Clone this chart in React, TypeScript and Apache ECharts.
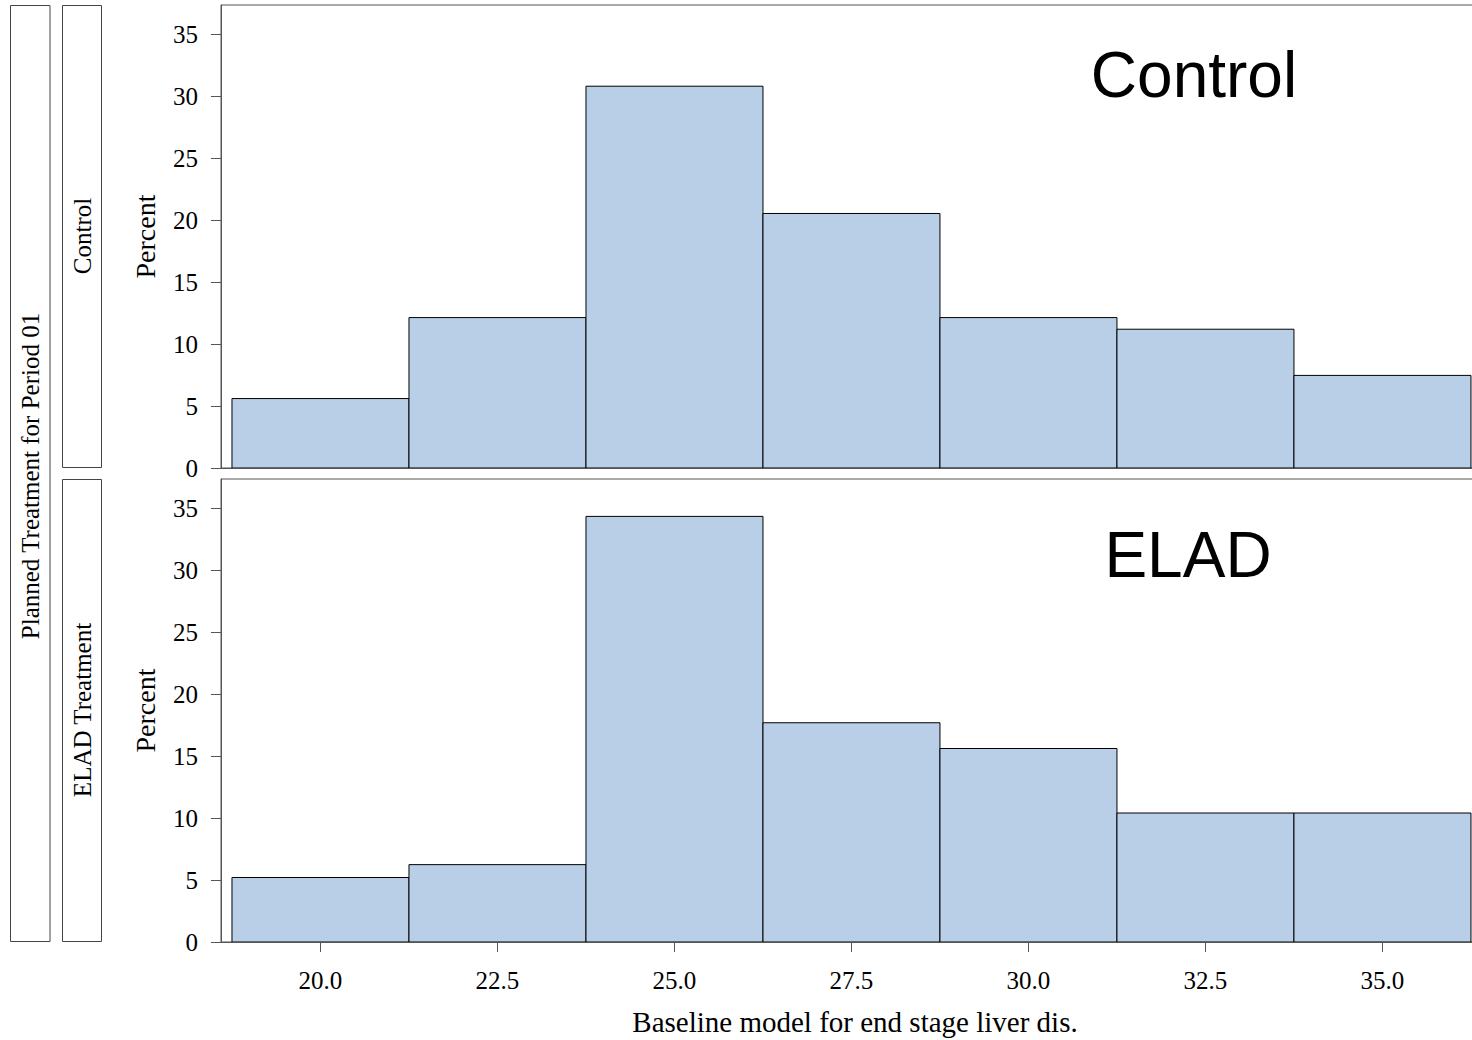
import React, { useEffect, useRef } from "react";
import * as echarts from "echarts";

// Histogram bin edges (MELD score) and percentages per treatment group
const binEdges = [18.75, 21.25, 23.75, 26.25, 28.75, 31.25, 33.75, 36.25];
const controlPct = [5.61, 12.15, 30.84, 20.56, 12.15, 11.21, 7.48];
const eladPct = [5.21, 6.25, 34.38, 17.71, 15.63, 10.42, 10.42];

const xTicks = [20, 22.5, 25, 27.5, 30, 32.5, 35];
const yTicks = [0, 5, 10, 15, 20, 25, 30, 35];

const panelLabels = ["Control", "ELAD"];
const stripLabels = ["Control", "ELAD Treatment"];
const outerStrip = "Planned Treatment for Period 01";
const xTitle = "Baseline model for end stage liver dis.";
const yTitle = "Percent";

const SERIF = "'Liberation Serif', 'Times New Roman', serif";
const SANS = "'Liberation Sans', Arial, sans-serif";
const BAR_FILL = "#B9CFE7";
const AXIS_GRAY = "#555";

const toBins = (pct: number[]) =>
  pct.map((v, i) => [binEdges[i], binEdges[i + 1], v]);

export default function App() {
  const ref = useRef<HTMLDivElement>(null);

  useEffect(() => {
    if (!ref.current) return;
    const chart = echarts.init(ref.current, undefined, { renderer: "svg" });

    const xMin = 18.595;
    const xMax = 36.307;
    const yMax = 37.4;

    // plot area runs slightly past the page's right edge
    const grids = [
      { left: 221, top: 5, width: 1254, height: 463 },
      { left: 221, top: 479, width: 1254, height: 463 },
    ];

    const histRender = (params: any, api: any) => {
      const p0 = api.coord([api.value(0), 0]);
      const p1 = api.coord([api.value(1), api.value(2)]);
      return {
        type: "rect",
        shape: { x: p0[0], y: p1[1], width: p1[0] - p0[0], height: p0[1] - p1[1] },
        style: { fill: BAR_FILL, stroke: "#000", lineWidth: 1 },
      };
    };

    const yAxisFor = (gridIndex: number) => ({
      type: "value",
      gridIndex,
      min: 0,
      max: yMax,
      name: yTitle,
      nameLocation: "middle",
      nameGap: 62,
      nameTextStyle: { fontFamily: SERIF, fontSize: 28, color: "#000" },
      axisLine: { show: true, lineStyle: { color: AXIS_GRAY, width: 1 } },
      axisTick: { show: true, length: 10, customValues: yTicks, lineStyle: { color: AXIS_GRAY } },
      axisLabel: {
        customValues: yTicks,
        margin: 23,
        fontFamily: SERIF,
        fontSize: 25,
        color: "#000",
      },
      splitLine: { show: false },
    });

    const graphics: any[] = [
      // outer strip
      {
        type: "rect",
        shape: { x: 10.5, y: 5.5, width: 39.5, height: 936 },
        style: { fill: "#fff", stroke: "#444", lineWidth: 1 },
      },
      {
        type: "text",
        x: 30,
        y: 476,
        rotation: Math.PI / 2,
        style: {
          text: outerStrip,
          font: `25px ${SERIF}`,
          fill: "#000",
          align: "center",
          verticalAlign: "middle",
        },
      },
      // inner strips
      {
        type: "rect",
        shape: { x: 62.5, y: 5.5, width: 39, height: 462 },
        style: { fill: "#fff", stroke: "#444", lineWidth: 1 },
      },
      {
        type: "rect",
        shape: { x: 62.5, y: 479.5, width: 39, height: 462 },
        style: { fill: "#fff", stroke: "#444", lineWidth: 1 },
      },
      {
        type: "text",
        x: 82,
        y: 236,
        rotation: Math.PI / 2,
        style: {
          text: stripLabels[0],
          font: `25px ${SERIF}`,
          fill: "#000",
          align: "center",
          verticalAlign: "middle",
        },
      },
      {
        type: "text",
        x: 82,
        y: 710,
        rotation: Math.PI / 2,
        style: {
          text: stripLabels[1],
          font: `25px ${SERIF}`,
          fill: "#000",
          align: "center",
          verticalAlign: "middle",
        },
      },
      // inset panel labels
      {
        type: "text",
        x: 1194,
        y: 75,
        style: {
          text: panelLabels[0],
          font: `64px ${SANS}`,
          fill: "#000",
          align: "center",
          verticalAlign: "middle",
        },
      },
      {
        type: "text",
        x: 1188,
        y: 555,
        style: {
          text: panelLabels[1],
          font: `64px ${SANS}`,
          fill: "#000",
          align: "center",
          verticalAlign: "middle",
        },
      },
    ];

    chart.setOption({
      animation: false,
      backgroundColor: "#fff",
      grid: grids.map((g) => ({
        ...g,
        show: true,
        borderColor: AXIS_GRAY,
        borderWidth: 1,
        backgroundColor: "transparent",
      })),
      xAxis: [
        {
          type: "value",
          gridIndex: 0,
          min: xMin,
          max: xMax,
          axisLine: { show: true, lineStyle: { color: AXIS_GRAY } },
          axisTick: { show: false },
          axisLabel: { show: false },
          splitLine: { show: false },
        },
        {
          type: "value",
          gridIndex: 1,
          min: xMin,
          max: xMax,
          name: xTitle,
          nameLocation: "middle",
          nameGap: 65,
          nameTextStyle: {
            fontFamily: SERIF,
            fontSize: 29,
            color: "#000",
            padding: [0, 0, 0, 14],
          },
          axisLine: { show: true, lineStyle: { color: AXIS_GRAY } },
          axisTick: { show: true, length: 10, customValues: xTicks, lineStyle: { color: AXIS_GRAY } },
          axisLabel: {
            customValues: xTicks,
            formatter: (v: number) => v.toFixed(1),
            margin: 26,
            fontFamily: SERIF,
            fontSize: 25,
            color: "#000",
          },
          splitLine: { show: false },
        },
      ],
      yAxis: [yAxisFor(0), yAxisFor(1)],
      series: [
        {
          type: "custom",
          xAxisIndex: 0,
          yAxisIndex: 0,
          renderItem: histRender,
          encode: { x: [0, 1], y: 2 },
          data: toBins(controlPct),
          clip: true,
        },
        {
          type: "custom",
          xAxisIndex: 1,
          yAxisIndex: 1,
          renderItem: histRender,
          encode: { x: [0, 1], y: 2 },
          data: toBins(eladPct),
          clip: true,
        },
      ],
      graphic: graphics,
    });

    return () => chart.dispose();
  }, []);

  return (
    <div
      ref={ref}
      style={{ position: "fixed", left: 0, top: 0, width: 1490, height: 1040, background: "#fff" }}
    />
  );
}
